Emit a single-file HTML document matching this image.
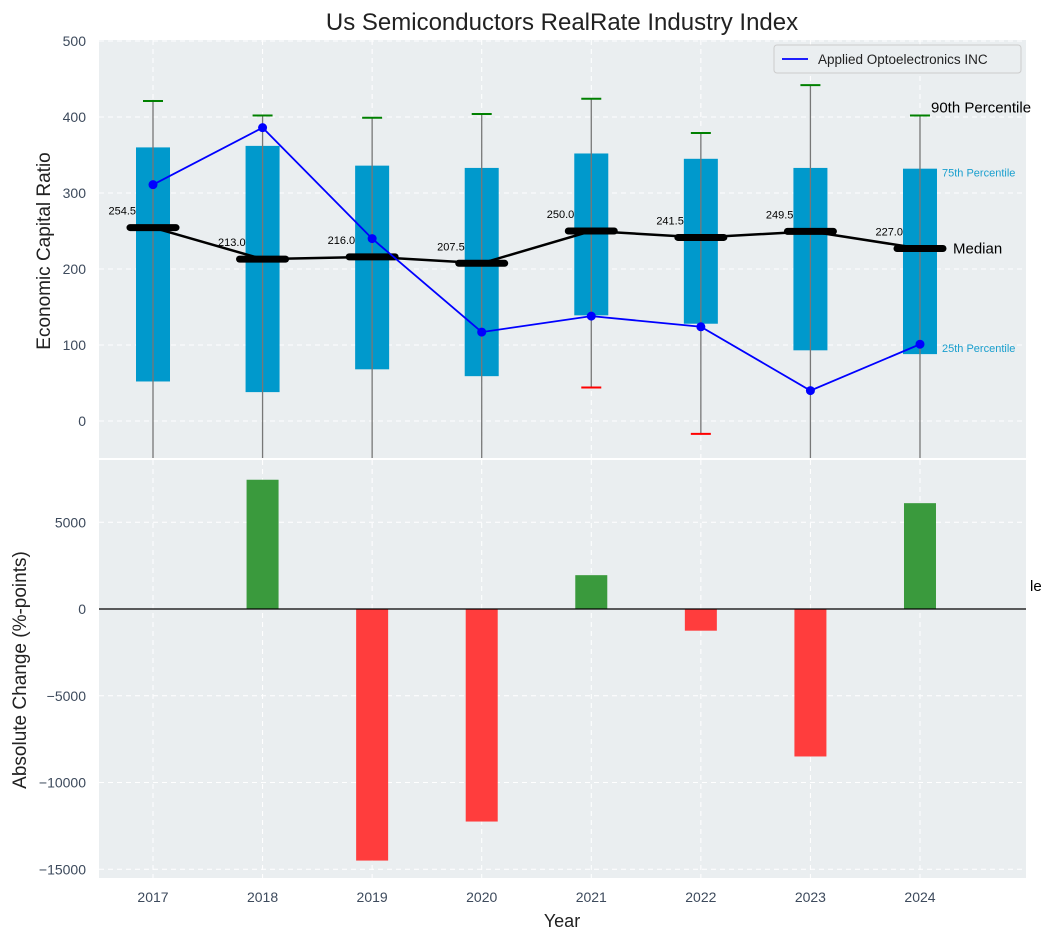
<!DOCTYPE html>
<html><head><meta charset="utf-8"><style>
body{margin:0;background:#fff;}
svg text{font-family:"Liberation Sans",sans-serif;}
</style></head><body>
<svg id="chart" width="1051" height="940" xmlns="http://www.w3.org/2000/svg"></svg>
<script>
const years=[2017,2018,2019,2020,2021,2022,2023,2024];
const q1=[52,38,68,59,139,128,93,88];
const q3=[360,362,336,333,352,345,333,332];
const p90=[421,402,399,404,424,379,442,402];
const p10=[-100,-100,-100,-100,44,-17,-100,-100];
const medians=[254.5,213.0,216.0,207.5,250.0,241.5,249.5,227.0];
const company=[311,386,240,117,138,124,40,101];
const changes=[null,7450,-14500,-12250,1950,-1250,-8500,6100];
const topTicks=[0,100,200,300,400,500];
const botTicks=[-15000,-10000,-5000,0,5000];

const NS="http://www.w3.org/2000/svg";
const svg=document.getElementById('chart');
function el(tag,attrs,parent){const e=document.createElementNS(NS,tag);for(const k in attrs)e.setAttribute(k,attrs[k]);(parent||svg).appendChild(e);return e;}
const L=99,R=1026;
const x=v=>153+(v-2017)*109.57;
const yT=v=>421-v*0.76;
const yB=v=>609-v*0.01735;
const T0=40,T1=458,B0=460,B1=878;

let t=el('text',{x:562,y:30,'font-size':24,'text-anchor':'middle',fill:'#222'});t.textContent='Us Semiconductors RealRate Industry Index';


let p=el('rect',{x:L,y:T0,width:R-L,height:T1-T0,fill:'#eaeef0'});

p=el('rect',{x:L,y:B0,width:R-L,height:B1-B0,fill:'#eaeef0'});


const clipT=el('clipPath',{id:'ct'});el('rect',{x:L,y:T0,width:R-L,height:T1-T0},clipT);
const gT=el('g',{'clip-path':'url(#ct)'});
const gB=el('g',{});

years.forEach(yr=>{
 el('line',{x1:x(yr),x2:x(yr),y1:T0,y2:T1,stroke:'#fff','stroke-dasharray':'5,4','stroke-width':1},gT);
 el('line',{x1:x(yr),x2:x(yr),y1:B0,y2:B1,stroke:'#fff','stroke-dasharray':'5,4','stroke-width':1},gB);
 let tl=el('text',{x:x(yr),y:902,'font-size':14,'text-anchor':'middle',fill:'#3d4a5c'});tl.textContent=yr;
 
});
topTicks.forEach(v=>{
 el('line',{x1:L,x2:R,y1:yT(v),y2:yT(v),stroke:'#fff','stroke-dasharray':'5,4'},gT);
 let tl=el('text',{x:86,y:yT(v)+5,'font-size':14,'text-anchor':'end',fill:'#3d4a5c'});tl.textContent=v;
 
});
botTicks.forEach(v=>{
 el('line',{x1:L,x2:R,y1:yB(v),y2:yB(v),stroke:'#fff','stroke-dasharray':'5,4'},gB);
 let tl=el('text',{x:86,y:yB(v)+5,'font-size':14,'text-anchor':'end',fill:'#3d4a5c'});tl.textContent=v===0?'0':String(v).replace('-','−');
 
});

years.forEach((yr,i)=>{
 let b=el('rect',{x:x(yr)-17,y:yT(q3[i]),width:34,height:yT(q1[i])-yT(q3[i]),fill:'#0099cc'},gT);
 
 el('line',{x1:x(yr),x2:x(yr),y1:yT(p90[i]),y2:yT(p10[i]),stroke:'#777','stroke-width':1.3},gT);
 el('line',{x1:x(yr)-10,x2:x(yr)+10,y1:yT(p90[i]),y2:yT(p90[i]),stroke:'green','stroke-width':2},gT);
 el('line',{x1:x(yr)-10,x2:x(yr)+10,y1:yT(p10[i]),y2:yT(p10[i]),stroke:'red','stroke-width':2},gT);
});
el('polyline',{points:years.map((yr,i)=>x(yr)+','+yT(medians[i])).join(' '),fill:'none',stroke:'#000','stroke-width':2.5},gT);
years.forEach((yr,i)=>{
 let m=el('line',{x1:x(yr)-23,x2:x(yr)+23,y1:yT(medians[i]),y2:yT(medians[i]),stroke:'#000','stroke-width':7,'stroke-linecap':'round'},gT);
 
 let lb=el('text',{x:x(yr)-17,y:yT(medians[i])-13,'font-size':11,'text-anchor':'end',fill:'#000'},gT);lb.textContent=medians[i].toFixed(1);
 
});
let cl=el('polyline',{points:years.map((yr,i)=>x(yr)+','+yT(company[i])).join(' '),fill:'none',stroke:'#0000ff','stroke-width':1.8},gT);

years.forEach((yr,i)=>{let c=el('circle',{cx:x(yr),cy:yT(company[i]),r:4.5,fill:'#0000ff'},gT);
 });

const li=7;
[['90th Percentile',931,yT(p90[li])-3,15,'#000'],['75th Percentile',942,yT(q3[li])+8,11,'#1a9fce'],['Median',953,yT(medians[li])+5,15,'#000'],['25th Percentile',942,yT(q1[li])-2,11,'#1a9fce']].forEach(a=>{
 let tx=el('text',{x:a[1],y:a[2],'font-size':a[3],fill:a[4]});tx.textContent=a[0];
 
});

years.forEach((yr,i)=>{
 const v=changes[i];if(v===null)return;
 let b=el('rect',{x:x(yr)-16,y:Math.min(yB(v),yB(0)),width:32,height:Math.abs(yB(v)-yB(0)),fill:v>=0?'#3a9a3d':'#ff3d3d'},gB);
 
});
el('line',{x1:L,x2:R,y1:yB(0),y2:yB(0),stroke:'#000','stroke-width':1.3},gB);
let le=el('text',{x:1030,y:591,'font-size':15,fill:'#000'});le.textContent='le';


const lg=el('g',{});
el('rect',{x:774,y:45,width:247,height:28,fill:'#eaeef0',stroke:'#ccc',rx:3},lg);
el('line',{x1:782,x2:808,y1:59,y2:59,stroke:'#0000ff','stroke-width':1.8},lg);
let lt=el('text',{x:818,y:64,'font-size':13.5,fill:'#222'},lg);lt.textContent='Applied Optoelectronics INC';

let a1=el('text',{x:0,y:0,'font-size':19,'text-anchor':'middle',fill:'#222',transform:'translate(50,251) rotate(-90)'});a1.textContent='Economic Capital Ratio';

let a2=el('text',{x:0,y:0,'font-size':19,'text-anchor':'middle',fill:'#222',transform:'translate(26,670) rotate(-90)'});a2.textContent='Absolute Change (%-points)';

let a3=el('text',{x:562,y:927,'font-size':18,'text-anchor':'middle',fill:'#222'});a3.textContent='Year';

</script>
</body></html>
